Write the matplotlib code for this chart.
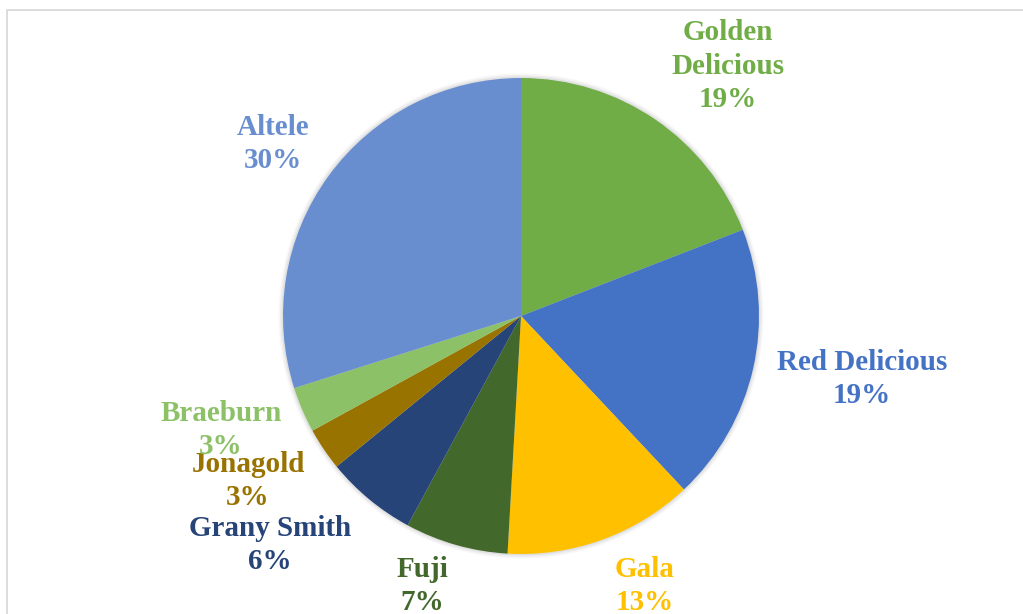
import matplotlib.pyplot as plt
from matplotlib.patches import Circle

# apple varieties, clockwise from 12 o'clock
labels = ["Golden\nDelicious", "Red Delicious", "Gala", "Fuji", "Grany Smith",
          "Jonagold", "Braeburn", "Altele"]
shares = [19.1, 18.9, 12.9, 7.0, 6.2, 2.9, 3.1, 29.9]
pct_text = ["19%", "19%", "13%", "7%", "6%", "3%", "3%", "30%"]

colors = ["#70AD47", "#4472C4", "#FFC000", "#43682B", "#264478",
          "#997300", "#8CC168", "#698ED0"]

# label centres in pixels (x, y from top)
label_pos = [(728, 66), (862, 379), (645, 586), (422, 586), (270, 545),
             (248, 481), (221, 430), (273, 144)]

W, H = 1023, 614
fig = plt.figure(figsize=(W / 100, H / 100), dpi=100)
ax = fig.add_axes([0, 0, 1, 1])

# chart area border (cut off at right and bottom)
ax.plot([7, 7, W + 5], [-5, H - 10, H - 10], color="#D9D9D9", lw=1.3)

cx, cy, r = 521, H - 316, 238
# soft shadow
for i, a in enumerate([0.05, 0.04, 0.03]):
    ax.add_patch(Circle((cx, cy), r + 1.5 + i * 1.5, color="#000000", alpha=a, lw=0))

ax.pie(shares, colors=colors, startangle=90, counterclock=False,
       center=(cx, cy), radius=r, frame=True,
       wedgeprops=dict(linewidth=0))
ax.set_xlim(0, W)
ax.set_ylim(0, H)
ax.set_aspect("equal")
ax.axis("off")

for lab, p, col, (px, py) in zip(labels, pct_text, colors, label_pos):
    ax.text(px, H - py, lab + "\n" + p, ha="center", va="center", color=col,
            fontsize=21, fontweight="bold", family="Liberation Serif",
            linespacing=1.3)

fig.savefig("out.png", dpi=100)
